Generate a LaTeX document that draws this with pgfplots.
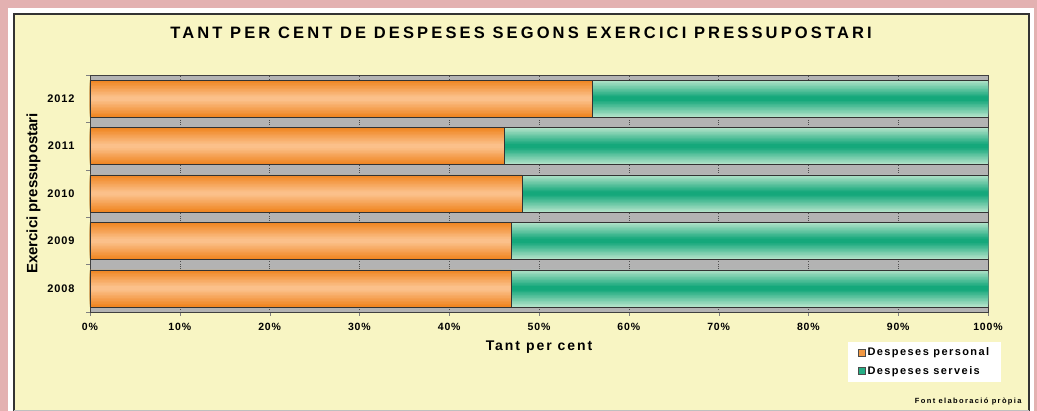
\documentclass[border=0pt]{standalone}
\usepackage{pgfplots}
\usepackage{pgfplotstable}
\pgfplotsset{compat=1.18}
\usepackage{fontspec}
\setmainfont{Liberation Sans}
\newfontfamily\spc{Liberation Sans}[LetterSpace=14]
\newfontfamily\spct{Liberation Sans}[LetterSpace=19]
\newfontfamily\spcs{Liberation Sans}[LetterSpace=8]
\newfontfamily\spcl{Liberation Sans}[LetterSpace=13]
\newfontfamily\spcf{Liberation Sans}[LetterSpace=18]
\definecolor{pinkbg}{HTML}{E3B1B1}
\definecolor{cream}{HTML}{F8F5C3}
\definecolor{plotgray}{HTML}{B3B3B3}
\definecolor{orEdge}{HTML}{F08622}
\definecolor{orMid}{HTML}{FDC898}
\definecolor{grEdge}{HTML}{B0E2C8}
\definecolor{grMid}{HTML}{00A070}

% year index, personal %, services %
\pgfplotstableread{
year pers serv
0 46.9 53.1
1 46.9 53.1
2 48.1 51.9
3 46.1 53.9
4 55.9 44.1
}\despeses

\begin{document}
\begin{tikzpicture}[x=1pt,y=1pt]
  \useasboundingbox (0,0) rectangle (1037,411);
  % page background and panel
  \fill[pinkbg] (0,0) rectangle (1037,411);
  \fill[white] (8,0) rectangle (1034,403);
  \filldraw[fill=cream, draw=black!80, line width=1.2pt] (14,-3) rectangle (1029,397);
  \draw[black!25] (14,1) -- (1029,1);
  \node[font=\spct\bfseries\fontsize{16.5}{18}\selectfont] at (521,378) {TANT PER CENT DE DESPESES SEGONS EXERCICI PRESSUPOSTARI};
  \node[font=\spcf\bfseries\fontsize{7.5}{8}\selectfont, anchor=east] at (1025,9) {Font elaboració pròpia};

  \begin{axis}[
    at={(90pt,99pt)}, anchor=south west,
    scale only axis, width=898pt, height=237pt,
    xbar,
    xmin=0, xmax=100, ymin=-0.5, ymax=4.5,
    axis background/.style={fill=plotgray},
    axis line style={black!75},
    xtick={0,10,...,100},
    xticklabel={\pgfmathprintnumber{\tick}\%},
    ytick={0,1,2,3,4},
    yticklabels={2008,2009,2010,2011,2012},
    minor ytick={-0.5,0.5,1.5,2.5,3.5,4.5},
    major y tick style={draw=none},
    minor tick length=4pt,
    major tick length=4pt,
    tick align=outside,
    xtick pos=bottom, ytick pos=left,
    xmajorgrids, grid style={black!70, dotted},
    /pgf/number format/assume math mode=true,
    x tick label style={font=\spcs\bfseries\fontsize{10.5}{12}\selectfont, yshift=-4pt},
    y tick label style={font=\spcs\bfseries\fontsize{11}{12}\selectfont, xshift=-8pt},
    xlabel={Tant per cent},
    ylabel={Exercici pressupostari},
    xlabel style={font=\spc\bfseries\fontsize{14}{16}\selectfont, yshift=-3pt},
    ylabel style={font=\bfseries\fontsize{15}{16}\selectfont, yshift=0pt},
    legend style={at={(axis description cs:0.844,-0.125)}, anchor=north west,
      draw=none, fill=white, font=\spcl\bfseries\fontsize{11}{12}\selectfont,
      row sep=5pt, inner xsep=10pt, inner ysep=4pt},
    legend cell align=left,
    reverse legend,
  ]
  % services: gradient built from narrowing layers, dark band in the middle
  \pgfplotsinvokeforeach{0,8,...,88}{
    \addplot[forget plot, draw=none, bar shift=0pt, bar width={37pt*(1-#1/100)},
      fill=grMid!#1!grEdge]
      table[x expr=\thisrow{pers}+\thisrow{serv}, y=year] {\despeses};
  }
  \addplot[draw=black!80, fill=none, bar shift=0pt, bar width=37pt,
    legend image code/.code={\draw[fill=grMid!85, draw=black!70] (0pt,-3.5pt) rectangle (7pt,3.5pt);}]
    table[x expr=\thisrow{pers}+\thisrow{serv}, y=year] {\despeses};
  \addlegendentry{Despeses serveis}
  % personal: gradient, light band in the middle
  \pgfplotsinvokeforeach{0,8,...,88}{
    \addplot[forget plot, draw=none, bar shift=0pt, bar width={37pt*(1-#1/100)},
      fill=orMid!#1!orEdge]
      table[x=pers, y=year] {\despeses};
  }
  \addplot[draw=black!80, fill=none, bar shift=0pt, bar width=37pt,
    legend image code/.code={\draw[fill=orEdge!85, draw=black!70] (0pt,-3.5pt) rectangle (7pt,3.5pt);}]
    table[x=pers, y=year] {\despeses};
  \addlegendentry{Despeses personal}
  \end{axis}
\end{tikzpicture}
\end{document}
